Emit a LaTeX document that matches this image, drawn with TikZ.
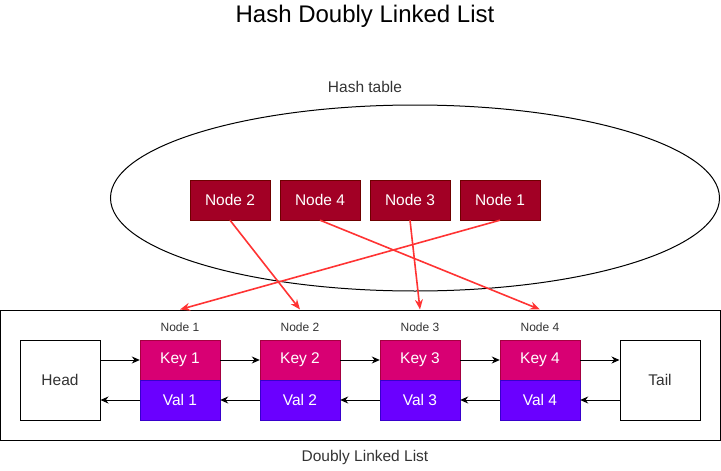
\documentclass[tikz,border=0pt]{standalone}
\usepackage{fontspec}
\setmainfont{Liberation Sans}
\usetikzlibrary{shapes.geometric,arrows.meta,positioning}
\definecolor{hashred}{HTML}{A20025}
\definecolor{hashredline}{HTML}{6F0000}
\definecolor{keypink}{HTML}{D80073}
\definecolor{keypinkline}{HTML}{A50040}
\definecolor{valviolet}{HTML}{6A00FF}
\definecolor{valvioletline}{HTML}{3700CC}
\definecolor{ptrred}{HTML}{FF3333}
\definecolor{txtgray}{HTML}{333333}

\begin{document}
\begin{tikzpicture}[x=1pt, y=-1pt,
    every node/.style={font=\fontsize{15.5}{18}\selectfont, text=txtgray},
    hashbox/.style={draw=hashredline, fill=hashred, text=white, minimum width=80pt, minimum height=40pt, inner sep=0pt},
    keybox/.style={draw=keypinkline, fill=keypink, text=white, minimum width=80pt, minimum height=40pt, inner sep=0pt},
    valbox/.style={draw=valvioletline, fill=valviolet, text=white, minimum width=80pt, minimum height=40pt, inner sep=0pt},
    endbox/.style={draw, fill=white, line width=1pt, minimum width=80pt, minimum height=80pt, inner sep=0pt},
    link/.style={-{Stealth[length=8pt, width=7pt]}, line width=1pt},
    hashlink/.style={-{Stealth[length=10pt, width=8pt]}, draw=ptrred, line width=1.6pt}]
    \useasboundingbox (0,0) rectangle (721,471);
    \node[text=black] (title) at (365,16) {\fontsize{24}{28}\selectfont Hash Doubly Linked List};
    % hash table
    \node (htlabel) at (365,87) {Hash table};
    \node[ellipse, draw, line width=1pt, minimum width=609pt, minimum height=186pt, inner sep=0pt] (ht) at (415,198) {};
    \foreach \n/\x in {2/230,4/320,3/410,1/500}
    {
        \node[hashbox] (h\n) at (\x,200) {Node \n};
    }
    % doubly linked list
    \node[draw, line width=1pt, minimum width=720pt, minimum height=130pt, inner sep=0pt] (dll) at (360.5,375) {};
    \node (dlllabel) at (365,457) {Doubly Linked List};
    \node[endbox] (head) at (60,380) {Head};
    \node[endbox] (tail) at (660,380) {Tail};
    \foreach \i in {1,...,4}
    {
        \pgfmathsetmacro{\x}{180+120*(\i-1)}
        \node[keybox] (k\i) at (\x,360) {Key \i};
        \node[valbox] (v\i) at (\x,400) {Val \i};
        \node[font=\fontsize{12}{14}\selectfont] (lbl\i) at (\x,327) {Node \i};
    }
    \draw[link] (head.east |- k1) -- (k1.west);
    \draw[link] (v1.west) -- (head.east |- v1);
    \foreach \i/\j in {1/2,2/3,3/4}
    {
        \draw[link] (k\i) -- (k\j);
        \draw[link] (v\j) -- (v\i);
    }
    \draw[link] (k4) -- (tail.west |- k4);
    \draw[link] (tail.west |- v4) -- (v4);
    % pointers from the hash table
    \foreach \n in {1,...,4}
    {
        \draw[hashlink] (h\n.south) -- (k\n |- dll.north);
    }
\end{tikzpicture}
\end{document}
